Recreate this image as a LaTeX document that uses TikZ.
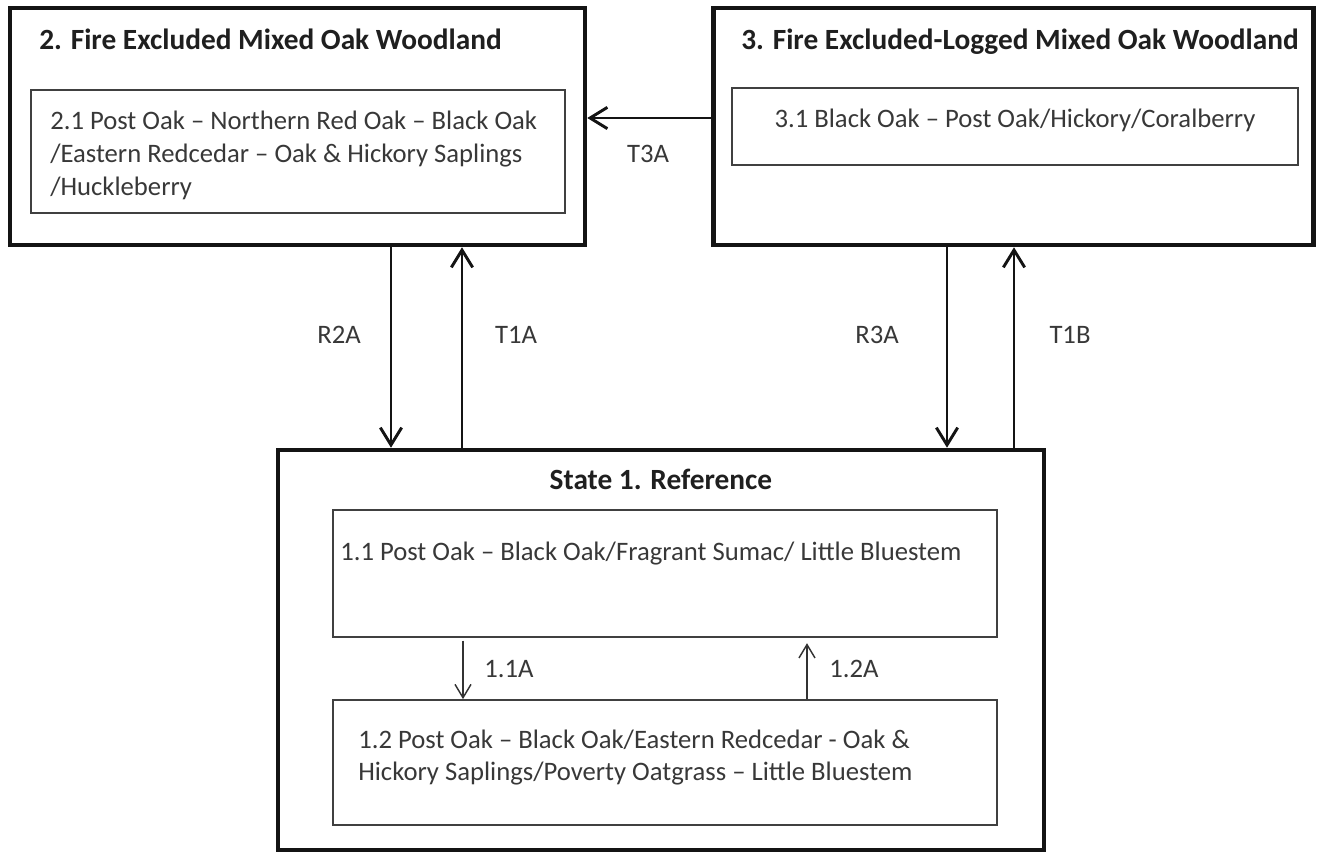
\documentclass[tikz,border=0pt]{standalone}
\usepackage{fontspec}
\setmainfont{Carlito}
\usetikzlibrary{arrows.meta}
\begin{document}
\begin{tikzpicture}[x=0.75pt,y=-0.75pt,
  outerbox/.style={draw=black!92, line width=3.4pt, inner sep=0pt},
  innerbox/.style={draw=black!75, line width=1.3pt, inner sep=0pt},
  title/.style={font=\fontsize{22}{26}\selectfont\bfseries, text=black!88, inner sep=0pt},
  body/.style={font=\fontsize{20}{24.4}\selectfont, text=black!78, inner sep=0pt},
  lbl/.style={font=\fontsize{20}{24}\selectfont, text=black!78, inner sep=0pt},
  bigarrow/.style={draw=black!92, line width=2.2pt, -{Straight Barb[length=13pt,width=16pt,line width=2.2pt]}},
  smallarrow/.style={draw=black!80, line width=1.1pt, -{Straight Barb[length=10pt,width=12pt,line width=1.1pt]}}
]
\useasboundingbox (0,0) rectangle (1319,852);
% outer boxes
\node[outerbox, minimum width=431.25pt, minimum height=177.75pt] (box2) at (297.5,126.5) {};
\node[outerbox, minimum width=450pt, minimum height=177.75pt] (box3) at (1013.5,126.5) {};
\node[outerbox, minimum width=574.5pt, minimum height=300pt] (state1) at (661,650) {};
% titles
\node[title, anchor=base west] (t2) at (39,50) {2. Fire Excluded Mixed Oak Woodland};
\node[title, anchor=base west] (t3) at (741,50) {3. Fire Excluded-Logged Mixed Oak Woodland};
\node[title, anchor=base] (t1) at (state1.center |- 0,489) {State 1. Reference};
% inner boxes
\node[innerbox, minimum width=400.5pt, minimum height=92.25pt] (b21) at (298,151.5) {};
\node[innerbox, minimum width=424.5pt, minimum height=57.75pt] (b31) at (1015,126.5) {};
\node[innerbox, minimum width=498pt, minimum height=95.25pt] (b11) at (665,573.5) {};
\node[innerbox, minimum width=498pt, minimum height=93.75pt] (b12) at (665,762.5) {};
% inner texts
\node[body, anchor=base west] (x21) at (50,130) {\begin{tabular}[t]{@{}l@{}}2.1 Post Oak -- Northern Red Oak -- Black Oak\\/Eastern Redcedar -- Oak \& Hickory Saplings\\/Huckleberry\end{tabular}};
\node[body, anchor=base] (x31) at (b31.center |- 0,128) {3.1 Black Oak -- Post Oak/Hickory/Coralberry};
\node[body, anchor=base west] (x11) at (340,560) {1.1 Post Oak -- Black Oak/Fragrant Sumac/ Little Bluestem};
\node[body, anchor=base west] (x12) at (358,748) {\begin{tabular}[t]{@{}l@{}}1.2 Post Oak -- Black Oak/Eastern Redcedar - Oak \&\\Hickory Saplings/Poverty Oatgrass -- Little Bluestem\end{tabular}};
% arrow positions
\coordinate (cr2a) at (391,0);
\coordinate (ct1a) at (462,0);
\coordinate (cr3a) at (947,0);
\coordinate (ct1b) at (1014,0);
\coordinate (ct3a) at (0,118);
\coordinate (c11a) at (463,0);
\coordinate (c12a) at (807,0);
% connectors
\draw[bigarrow] (box3.west |- ct3a) -- (box2.east |- ct3a);
\draw[bigarrow] (box2.south -| cr2a) -- (state1.north -| cr2a);
\draw[bigarrow] (state1.north -| ct1a) -- (box2.south -| ct1a);
\draw[bigarrow] (box3.south -| cr3a) -- (state1.north -| cr3a);
\draw[bigarrow] (state1.north -| ct1b) -- (box3.south -| ct1b);
\draw[smallarrow] ([yshift=-2pt]b11.south -| c11a) -- (b12.north -| c11a);
\draw[smallarrow] (b12.north -| c12a) -- ([yshift=-4pt]b11.south -| c12a);
% labels
\node[lbl, anchor=base] (lt3a) at (648,163) {T3A};
\node[lbl, anchor=base] (lr2a) at (339,343) {R2A};
\node[lbl, anchor=base] (lt1a) at (516,343) {T1A};
\node[lbl, anchor=base] (lr3a) at (877,343) {R3A};
\node[lbl, anchor=base] (lt1b) at (1070,343) {T1B};
\node[lbl, anchor=base west] (l11a) at (484,677) {1.1A};
\node[lbl, anchor=base west] (l12a) at (829,677) {1.2A};
\end{tikzpicture}
\end{document}
